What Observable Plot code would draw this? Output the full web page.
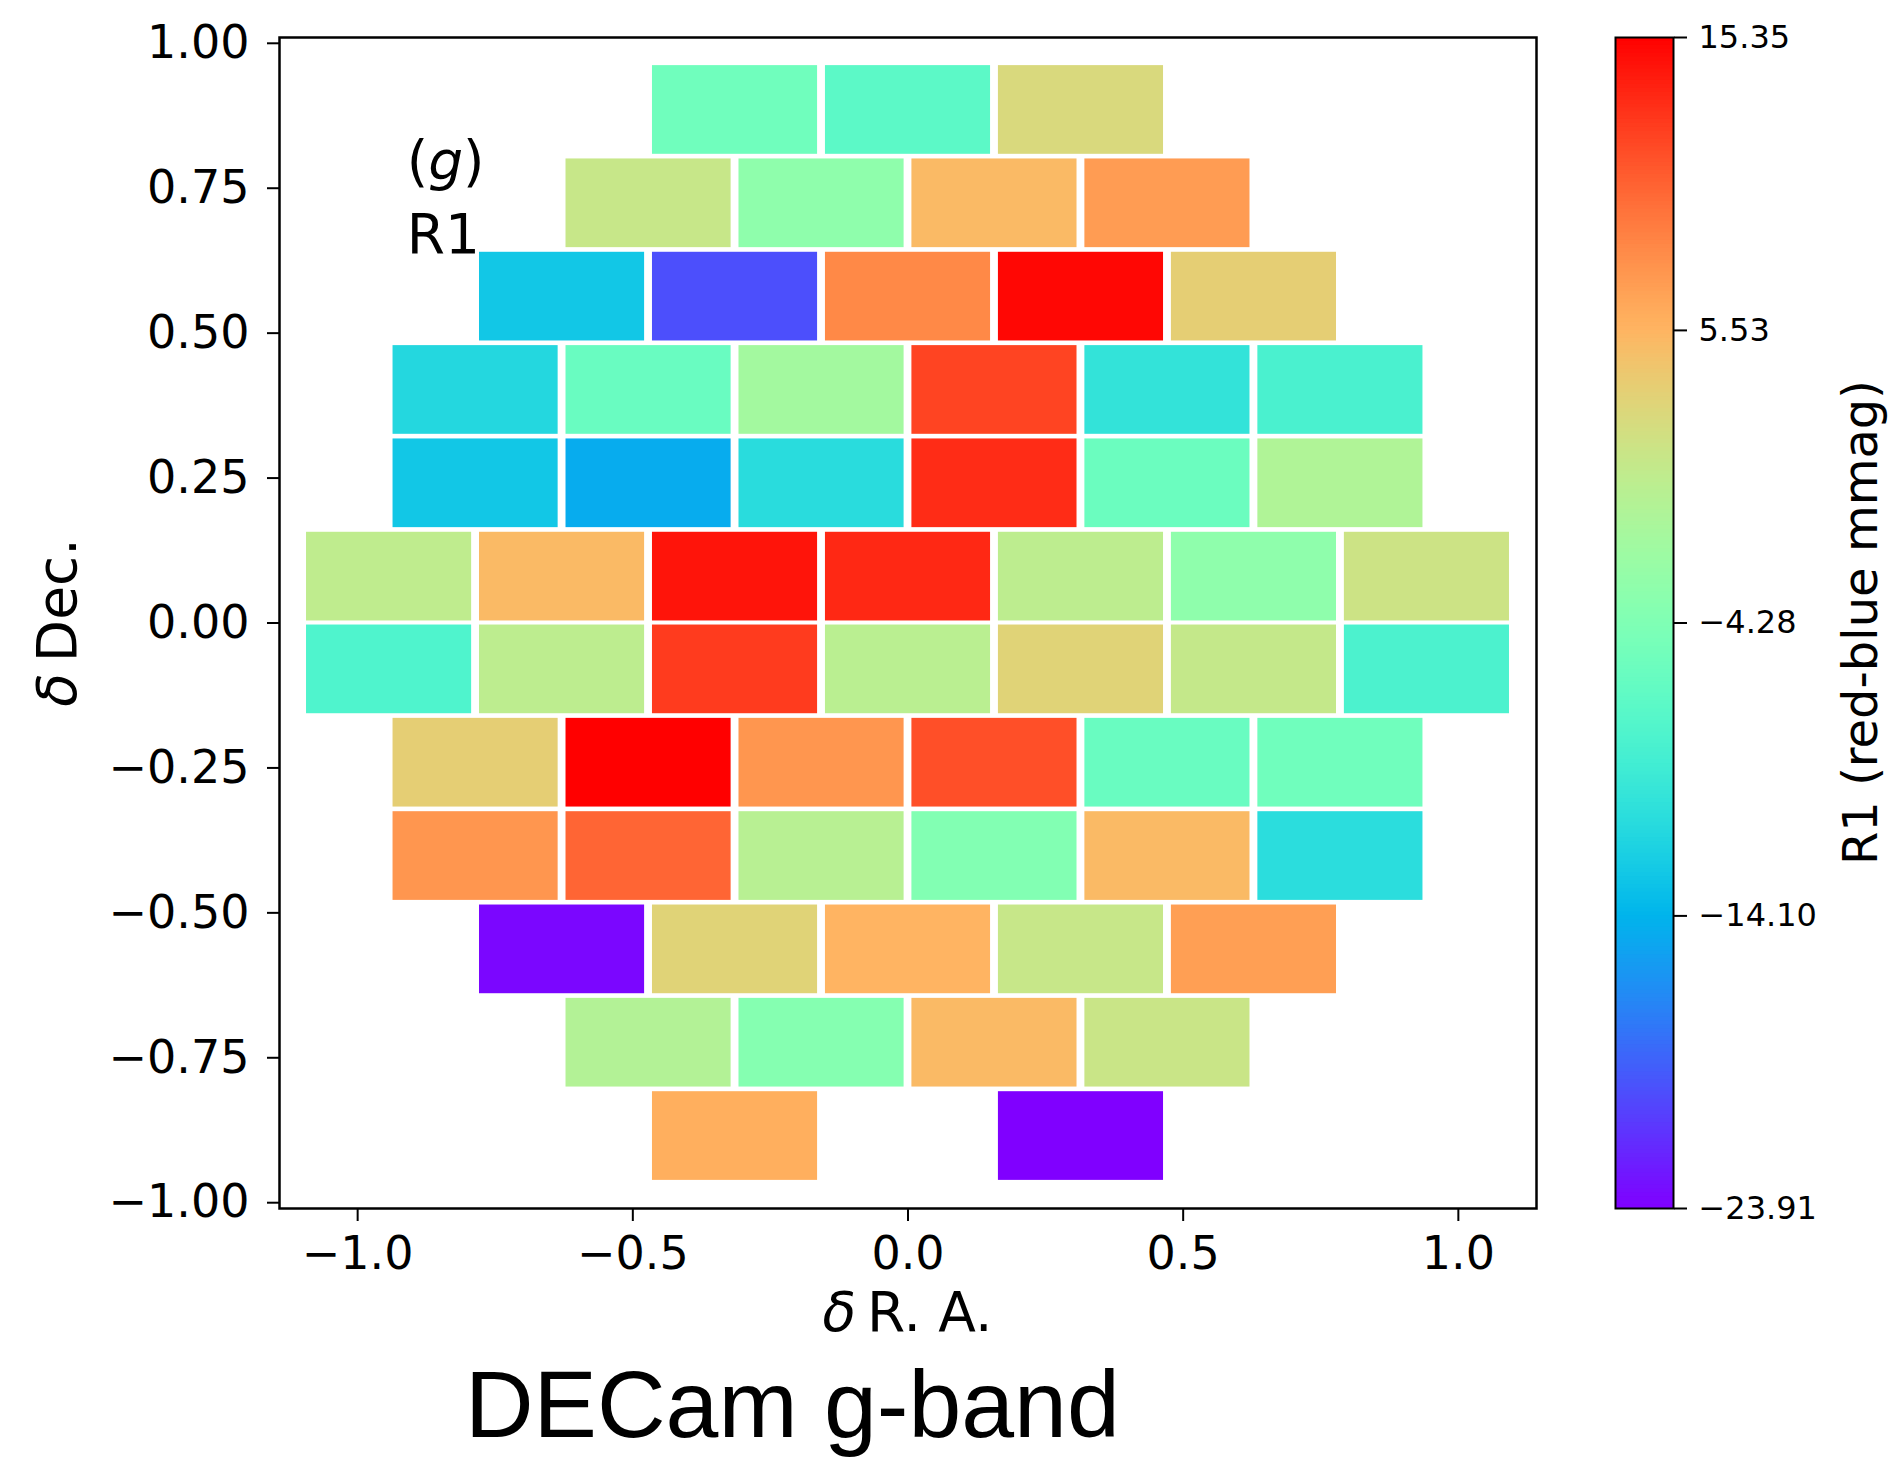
<!DOCTYPE html>
<html><head><meta charset="utf-8">
<script src="https://cdn.jsdelivr.net/npm/d3@7"></script>
<script src="https://cdn.jsdelivr.net/npm/@observablehq/plot@0.6"></script>
<style>
html,body{margin:0;padding:0;background:#fff;}
#wrap{position:relative;width:1895px;height:1458px;overflow:hidden;background:#fff;}
#wrap svg{position:absolute;top:0;}
#wrap svg g[aria-label="x-axis tick"], #wrap svg g[aria-label="y-axis tick"]{stroke-width:2px;}
</style></head><body><div id="wrap"></div>
<script>
// CCD row centres (δ Dec.) and CCD centres (δ R.A.) per row
const rowDec = [0.885, 0.724, 0.563, 0.402, 0.241, 0.080, -0.080, -0.241, -0.402, -0.563, -0.724, -0.885];
const rowRA = [
  [-0.3143, 0, 0.3143],
  [-0.4714, -0.1571, 0.1571, 0.4714],
  [-0.6286, -0.3143, 0, 0.3143, 0.6286],
  [-0.7857, -0.4714, -0.1571, 0.1571, 0.4714, 0.7857],
  [-0.7857, -0.4714, -0.1571, 0.1571, 0.4714, 0.7857],
  [-0.9429, -0.6286, -0.3143, 0, 0.3143, 0.6286, 0.9429],
  [-0.9429, -0.6286, -0.3143, 0, 0.3143, 0.6286, 0.9429],
  [-0.7857, -0.4714, -0.1571, 0.1571, 0.4714, 0.7857],
  [-0.7857, -0.4714, -0.1571, 0.1571, 0.4714, 0.7857],
  [-0.6286, -0.3143, 0, 0.3143, 0.6286],
  [-0.4714, -0.1571, 0.1571, 0.4714],
  [-0.3143, 0.3143]
];
// R1 (red-blue mmag) per CCD
const rowR1 = [
  [-5.46, -7.03, 2.59],
  [1.22, -3.10, 5.14, 7.11],
  [-12.72, -19.98, 8.28, 15.00, 3.57],
  [-11.35, -6.05, -1.53, 11.97, -10.17, -8.40],
  [-12.72, -14.64, -10.95, 13.19, -5.85, -0.55],
  [0.63, 5.14, 14.37, 13.39, 0.43, -3.10, 1.61],
  [-8.01, 0.43, 12.41, 0.23, 3.18, 1.02, -8.21],
  [3.57, 15.35, 7.50, 11.42, -6.05, -5.46],
  [7.50, 10.25, 0.04, -4.08, 5.14, -10.76],
  [-23.60, 3.18, 5.53, 1.22, 6.91],
  [-0.35, -3.89, 5.14, 1.41],
  [5.93, -23.91]
];
const ccdWidth = 0.300, ccdHeight = 0.153;
const xTicks = [-1, -0.5, 0, 0.5, 1];
const yTicks = [-1, -0.75, -0.5, -0.25, 0, 0.25, 0.5, 0.75, 1];
const cbarTicks = [-23.91, -14.10, -4.28, 5.53, 15.35];
const vmin = -23.91, vmax = 15.35;
const annot = {x: -0.910, yTop: 0.763, yBottom: 0.637, line1: "g", line2: "R1"};
const xLabel = "R. A.", yLabel = "Dec.", cbarLabel = "R1 (red-blue mmag)", caption = "DECam g-band";

const cells = [];
rowDec.forEach((dec, i) => rowRA[i].forEach((ra, j) => cells.push({ra, dec, value: rowR1[i][j]})));

// matplotlib "rainbow" colormap
const rainbow = (t) => {
  const r = Math.min(1, Math.abs(2 * t - 0.5));
  const g = Math.max(0, Math.sin(Math.PI * t));
  const b = Math.max(0, Math.cos(Math.PI * t / 2));
  return `rgb(${Math.round(r * 255)},${Math.round(g * 255)},${Math.round(b * 255)})`;
};
const colorScale = {type: "linear", domain: [vmin, vmax], interpolate: rainbow};

const W = 1560, H = 1458;
const mL = 279, mR = 24, mT = 37, mB = 250;

const main = Plot.plot({
  width: W, height: H,
  marginLeft: mL, marginRight: mR, marginTop: mT, marginBottom: mB,
  style: {fontFamily: "DejaVu Sans", fontSize: "46px", color: "black", background: "transparent", overflow: "visible"},
  x: {domain: [-1.142, 1.142], ticks: xTicks, tickFormat: d3.format(".1f"), tickSize: 13, tickPadding: 15, label: null},
  y: {domain: [-1.01, 1.01], ticks: yTicks, tickFormat: d3.format(".2f"), tickSize: 12, tickPadding: 18, label: null},
  color: colorScale,
  marks: [
    Plot.rect(cells, {
      x1: d => d.ra - ccdWidth / 2, x2: d => d.ra + ccdWidth / 2,
      y1: d => d.dec - ccdHeight / 2, y2: d => d.dec + ccdHeight / 2,
      fill: "value"
    }),
    Plot.frame({stroke: "black", strokeWidth: 2.5})
  ]
});
main.style.left = "0px";
document.getElementById("wrap").appendChild(main);

const sx = main.scale("x"), sy = main.scale("y");
const svg = d3.select(main);
// annotation "(g)" / "R1"
const t1 = svg.append("text").attr("x", sx.apply(annot.x)).attr("y", sy.apply(annot.yTop)).attr("text-anchor", "start")
  .attr("font-family", "DejaVu Sans").attr("font-size", 55).attr("fill", "black");
t1.append("tspan").text("(");
t1.append("tspan").attr("font-style", "italic").text(annot.line1);
t1.append("tspan").text(")");
svg.append("text").attr("x", sx.apply(annot.x)).attr("y", sy.apply(annot.yBottom)).attr("text-anchor", "start")
  .attr("font-family", "DejaVu Sans").attr("font-size", 55).attr("fill", "black").text(annot.line2);
// x label
const cx = (mL + W - mR) / 2, cy = (mT + H - mB) / 2;
const xl = svg.append("text").attr("x", cx).attr("y", 1331).attr("text-anchor", "middle")
  .attr("font-family", "DejaVu Sans").attr("font-size", 55).attr("fill", "black");
xl.append("tspan").attr("font-style", "italic").text("δ");
xl.append("tspan").text("\u2009" + xLabel);
// y label
const yl = svg.append("text").attr("transform", `translate(76,${cy}) rotate(-90)`).attr("text-anchor", "middle")
  .attr("font-family", "DejaVu Sans").attr("font-size", 55).attr("fill", "black");
yl.append("tspan").attr("font-style", "italic").text("δ");
yl.append("tspan").text("\u2009" + yLabel);
// caption
svg.append("text").attr("x", 465).attr("y", 1437).attr("text-anchor", "start")
  .attr("font-family", "Liberation Sans, Arial, sans-serif")
  .attr("font-size", 95).attr("fill", "black").text(caption);

// colour bar
const CW = 335;
const nStrip = 300, step = (vmax - vmin) / nStrip;
const strips = d3.range(nStrip).map(i => ({a: vmin + i * step, b: Math.min(vmax, vmin + (i + 1.6) * step), v: vmin + (i + 0.5) * step}));
const cbar = Plot.plot({
  width: CW, height: H,
  marginLeft: 55, marginRight: CW - 113, marginTop: mT, marginBottom: mB,
  style: {fontFamily: "DejaVu Sans", fontSize: "32px", color: "black", background: "transparent", overflow: "visible"},
  x: {domain: [0, 1], axis: null},
  y: {domain: [vmin, vmax], axis: "right", ticks: cbarTicks, tickFormat: d3.format(".2f"), tickSize: 13, tickPadding: 12, label: null},
  color: colorScale,
  marks: [
    Plot.rect(strips, {x1: 0, x2: 1, y1: "a", y2: "b", fill: "v"}),
    Plot.frame({stroke: "black", strokeWidth: 2})
  ]
});
cbar.style.left = W + "px";
document.getElementById("wrap").appendChild(cbar);
d3.select(cbar).append("text").attr("transform", `translate(${1877 - W},${cy}) rotate(-90)`).attr("text-anchor", "middle")
  .attr("font-family", "DejaVu Sans").attr("font-size", 48).attr("fill", "black").text(cbarLabel);
d3.select(cbar).selectAll('g[aria-label="y-axis tick"]').attr("stroke-width", 2);
</script>
</body></html>
